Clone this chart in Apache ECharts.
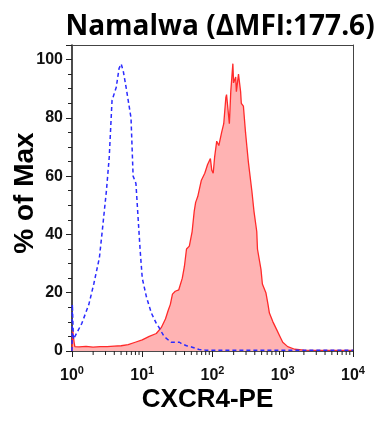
<!DOCTYPE html>
<html>
<head>
<meta charset="utf-8">
<script src="https://cdn.jsdelivr.net/npm/echarts@6/dist/echarts.min.js"></script>
<style>
html,body{margin:0;padding:0;background:#fff;}
#chart{width:377px;height:423px;}
</style>
</head>
<body>
<div id="chart"></div>
<script>
// x positions are log10(fluorescence)
const redLog = [0, 0.01, 0.03, 0.04, 0.1, 0.2, 0.3, 0.4, 0.5, 0.6, 0.7, 0.8, 0.9, 1.0, 1.1, 1.2, 1.27, 1.33, 1.37, 1.40, 1.43, 1.47, 1.52, 1.57, 1.6, 1.63, 1.67, 1.71, 1.74, 1.76, 1.79, 1.84, 1.89, 1.93, 1.97, 1.99, 2.01, 2.03, 2.06, 2.09, 2.10, 2.13, 2.16, 2.19, 2.2, 2.24, 2.26, 2.29, 2.3, 2.33, 2.34, 2.37, 2.4, 2.41, 2.44, 2.47, 2.49, 2.51, 2.56, 2.59, 2.63, 2.64, 2.69, 2.71, 2.76, 2.79, 2.81, 2.86, 2.91, 2.96, 3.0, 3.07, 3.17, 3.3, 3.5, 4.0];
const redPct = [0, 7, 3, 1.5, 1.4, 1.6, 1.3, 1.5, 1.5, 1.7, 1.8, 2.2, 3.0, 3.8, 5.0, 6.0, 8, 11, 14, 16, 19.5, 20.5, 21, 25, 29, 35, 36, 41, 48, 51, 53, 58.5, 61, 64, 66, 62, 61, 66.5, 72, 70.5, 70, 75, 78, 87, 88, 78, 89, 98.6, 92, 94, 89, 95, 89, 85, 84, 75, 70, 65, 55, 48, 41, 35, 28, 23, 20, 16, 13, 10, 7.5, 5, 3, 1.5, 0.6, 0.3, 0.2, 0.2];
const blueLog = [0, 0.005, 0.02, 0.04, 0.14, 0.24, 0.31, 0.39, 0.43, 0.49, 0.53, 0.57, 0.63, 0.67, 0.7, 0.73, 0.77, 0.8, 0.84, 0.87, 0.91, 0.94, 0.97, 1.0, 1.06, 1.13, 1.2, 1.24, 1.31, 1.41, 1.53, 1.56, 1.63, 1.7, 1.81, 1.9, 4.0];
const bluePct = [0, 16, 4, 3.8, 9.5, 16, 23, 32, 41, 55, 66.5, 86, 90.5, 97, 98.5, 96, 90.5, 86, 80, 60, 57.5, 46, 34.6, 25, 18.5, 13, 9.5, 8, 5, 3, 3, 2.5, 1.8, 1.4, 0.5, 0.3, 0.3];
const decades = [0, 1, 2, 3, 4];
const minorMultipliers = [2, 3, 4, 5, 6, 7, 8, 9];
const yTicks = [0, 20, 40, 60, 80, 100];
const titleText = 'Namalwa (ΔMFI:177.6)';
const xName = 'CXCR4-PE';
const yName = '% of Max';

const zip = (a, b) => a.map((v, i) => [v, b[i]]);
const minorTickData = [];
decades.slice(0, -1).forEach(d => minorMultipliers.forEach(m => minorTickData.push([d + Math.log10(m), 0])));

const chart = echarts.init(document.getElementById('chart'), null, {renderer: 'canvas'});
const axisFont = 'Liberation Sans, Arial, sans-serif';
chart.setOption({
  animation: false,
  backgroundColor: '#fff',
  title: {
    text: titleText,
    left: 215, top: 8, textAlign: 'center',
    textStyle: {fontFamily: 'Open Sans', fontWeight: 'bold', fontSize: 28, color: '#000'}
  },
  grid: {left: 72, right: 24, top: 45, bottom: 72, outerBoundsMode: 'none', containLabel: false},
  xAxis: [{
    type: 'value', min: 0, max: 4, interval: 1,
    name: xName, nameLocation: 'middle', nameGap: 36, nameMoveOverlap: false,
    nameTextStyle: {fontFamily: axisFont, fontWeight: 'bold', fontSize: 26, color: '#000', padding: [0, 10, 0, 0]},
    axisLine: {onZero: false, lineStyle: {color: '#111', width: 1.5}},
    axisTick: {inside: false, length: 6, lineStyle: {color: '#222', width: 1}},
    splitLine: {show: false},
    axisLabel: {
      margin: 14,
      formatter: v => '{b|10}{s|' + v + '}',
      rich: {
        b: {fontFamily: axisFont, fontWeight: 'bold', fontSize: 16, color: '#111', verticalAlign: 'bottom'},
        s: {fontFamily: axisFont, fontWeight: 'bold', fontSize: 11, color: '#111', verticalAlign: 'bottom', padding: [0, 0, 8, 0]}
      }
    }
  }, {
    type: 'value', min: 0, max: 4, position: 'top',
    axisLine: {onZero: false, lineStyle: {color: '#444', width: 1}},
    axisTick: {show: false}, axisLabel: {show: false}, splitLine: {show: false}
  }],
  yAxis: [{
    type: 'value', min: 0, max: 105, interval: 20,
    name: yName, nameLocation: 'middle', nameGap: 33, nameRotate: 90, nameMoveOverlap: false,
    nameTextStyle: {fontFamily: axisFont, fontWeight: 'bold', fontSize: 28, color: '#000', padding: [0, 0, 0, 10]},
    axisLine: {onZero: false, lineStyle: {color: '#111', width: 1.5}},
    axisTick: {length: 6, lineStyle: {color: '#222', width: 1}},
    minorTick: {show: true, splitNumber: 4, length: 4, lineStyle: {color: '#222', width: 1}},
    splitLine: {show: false},
    axisLabel: {
      margin: 9, showMaxLabel: false,
      formatter: v => (yTicks.indexOf(v) >= 0 ? String(v) : ''),
      fontFamily: axisFont, fontWeight: 'bold', fontSize: 16, color: '#111'
    }
  }, {
    type: 'value', min: 0, max: 105, position: 'right',
    axisLine: {onZero: false, lineStyle: {color: '#444', width: 1}},
    axisTick: {show: false}, axisLabel: {show: false}, splitLine: {show: false}
  }],
  series: [{
    type: 'line', data: zip(redLog, redPct), showSymbol: false, symbol: 'none',
    lineStyle: {color: '#ff2a2a', width: 1.3},
    areaStyle: {color: '#ffb3b3', opacity: 1, origin: 'start'},
    z: 2
  }, {
    type: 'line', data: zip(blueLog, bluePct), showSymbol: false, symbol: 'none',
    lineStyle: {color: '#2b2bff', width: 1.5, type: [4, 3]},
    z: 3
  }, {
    type: 'custom', data: minorTickData, clip: false, silent: true, z: 4,
    renderItem: (params, api) => {
      const p = api.coord([api.value(0), 0]);
      return {type: 'line', shape: {x1: p[0], y1: p[1], x2: p[0], y2: p[1] + 4},
        style: {stroke: '#222', lineWidth: 1}};
    }
  }]
});
</script>
</body>
</html>
